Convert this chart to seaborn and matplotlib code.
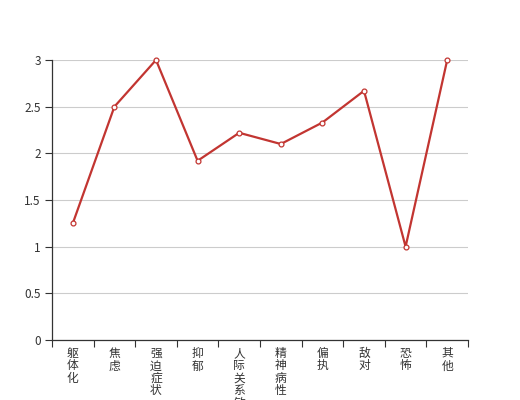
import pandas as pd
import matplotlib
matplotlib.use('Agg')
import matplotlib.pyplot as plt
import seaborn as sns

# data
categories = ['躯体化', '焦虑', '强迫症状', '抑郁', '人际关系敏感', '精神病性', '偏执', '敌对', '恐怖', '其他']
scores = [1.25, 2.5, 3.0, 1.92, 2.22, 2.1, 2.33, 2.67, 1.0, 3.0]
yticks = [0, 0.5, 1, 1.5, 2, 2.5, 3]
ytick_labels = ['0', '0.5', '1', '1.5', '2', '2.5', '3']

df = pd.DataFrame({'pos': range(len(categories)), 'score': scores})

sns.set_style('white')
plt.rcParams['font.family'] = ['Noto Sans CJK SC', 'DejaVu Sans']

fig = plt.figure(figsize=(5.2, 4), dpi=100)
ax = fig.add_axes([0.1, 0.15, 0.8, 0.7])

sns.lineplot(data=df, x='pos', y='score', ax=ax, color='#c23531', linewidth=1.6,
             marker='o', markersize=3.5, markerfacecolor='white',
             markeredgecolor='#c23531', markeredgewidth=0.9, sort=False, zorder=3)
for ln in ax.lines:
    ln.set_clip_on(False)

ax.set_xlim(-0.5, len(categories) - 0.5)
ax.set_ylim(0, 3)

# y axis
ax.set_yticks(yticks)
ax.set_yticklabels(ytick_labels, color='#333333', fontsize=8.5)
ax.yaxis.grid(True, color='#cccccc', linewidth=0.8)
ax.set_axisbelow(True)

# x axis: ticks on band boundaries, labels in band centers
ax.set_xticks([i - 0.5 for i in range(len(categories) + 1)])
ax.set_xticklabels([])
ax.set_xticks(range(len(categories)), minor=True)
ax.set_xticklabels(['\n'.join(c) for c in categories], minor=True,
                   color='#333333', fontsize=8.5, linespacing=0.95)
ax.tick_params(axis='x', which='minor', length=0, pad=5)
ax.tick_params(axis='x', which='major', length=5, color='#333333', width=0.8, direction='out')
ax.tick_params(axis='y', length=5, color='#333333', width=0.8, direction='out', pad=3)
ax.xaxis.set_ticks_position('bottom')
ax.yaxis.set_ticks_position('left')

for s in ['top', 'right']:
    ax.spines[s].set_visible(False)
for s in ['left', 'bottom']:
    ax.spines[s].set_color('#333333')
    ax.spines[s].set_linewidth(0.9)

ax.set_xlabel('')
ax.set_ylabel('')

fig.savefig('out.png', dpi=100)
